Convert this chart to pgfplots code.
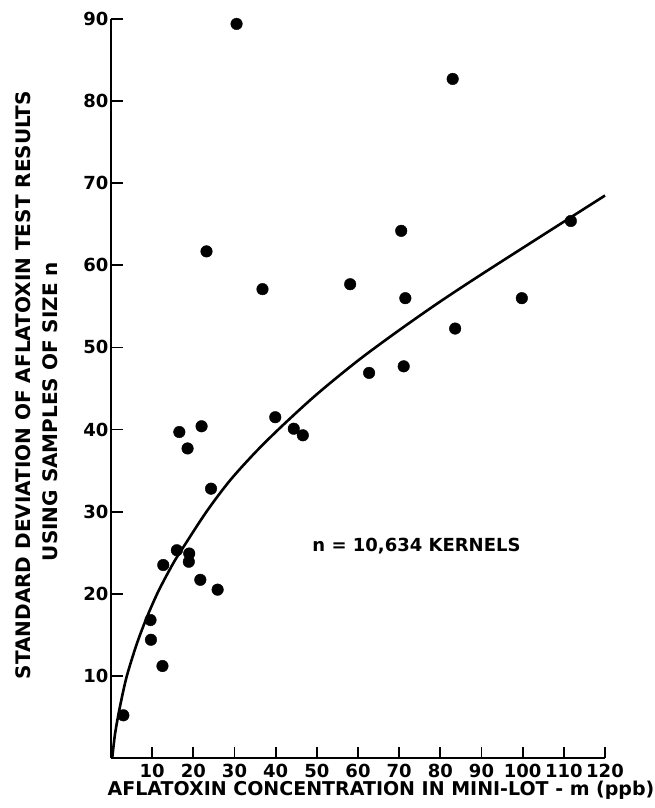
\documentclass[border=0pt]{standalone}
\usepackage{fontspec}
\setmainfont{DejaVu Sans}
\usepackage{pgfplots}
\pgfplotsset{compat=1.18}
\begin{document}
\begin{tikzpicture}
\begin{axis}[
  scale only axis, width=494pt, height=739pt,
  xmin=0, xmax=120, ymin=0, ymax=90,
  axis lines=left, axis line style={line width=2.8pt,-},
  xtick={10,20,...,120}, ytick={10,20,...,90},
  tick align=inside, major tick length=11.5pt,
  tick style={line width=1.8pt,black},
  clip=false,
  /pgf/number format/assume math mode=true,
  ticklabel style={font=\bfseries\fontsize{18}{18}\selectfont},
  xticklabel style={yshift=-3pt},
  yticklabel style={xshift=1pt},
]
\addplot[only marks, mark=*, mark size=5.8pt, black] coordinates {
(3.0,5.2) (9.6,16.8) (9.7,14.4) (12.5,11.2) (12.7,23.5) (16.0,25.3)
(16.6,39.7) (18.6,37.7) (19.0,24.9) (18.9,23.9) (21.7,21.7) (22.0,40.4)
(24.3,32.8) (25.9,20.5) (39.9,41.5) (44.4,40.1) (46.6,39.3)
(30.5,89.4) (23.2,61.7) (36.8,57.1)
(83.0,82.7) (70.5,64.2) (58.1,57.7) (71.5,56.0) (99.8,56.0) (111.7,65.4)
(83.6,52.3) (62.7,46.9) (71.1,47.7)
};
\addplot[smooth, line width=2.6pt, black] coordinates {
(0.3,0) (1.0,3.0) (2.2,6.3) (3.8,9.9) (6.2,13.8) (8.6,17.0) (11.5,20.3)
(15.1,23.7) (17.6,25.7) (23.2,30.0) (28.9,33.8) (35.4,37.4) (41.9,40.6)
(50,44.3) (60,48.4) (70,52.1) (80,55.6) (90,58.9) (103.4,63.2) (120,68.5)
};
\node[font=\bfseries\fontsize{18}{18}\selectfont] at (axis cs:74.2,25.8) {n = 10,634 KERNELS};
\node[rotate=90, font=\bfseries\fontsize{20}{20}\selectfont] at (axis cs:-21.3,45.4) {STANDARD DEVIATION OF AFLATOXIN TEST RESULTS};
\node[rotate=90, font=\bfseries\fontsize{20}{20}\selectfont] at (axis cs:-14.8,42.2) {USING SAMPLES OF SIZE n};
\node[font=\bfseries\fontsize{19}{19}\selectfont] at (axis cs:65.6,-3.9) {AFLATOXIN CONCENTRATION IN MINI-LOT - m (ppb)};
\coordinate (bl) at (rel axis cs:0,0);
\end{axis}
\pgfresetboundingbox
\path (bl) ++(-111pt,-50pt) rectangle ++(655pt,808pt);
\end{tikzpicture}
\end{document}
